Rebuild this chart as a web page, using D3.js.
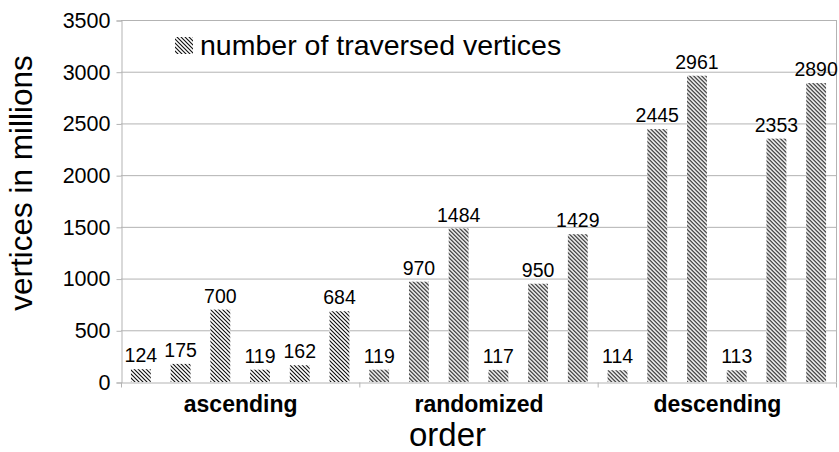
<!DOCTYPE html>
<html><head><meta charset="utf-8">
<script src="https://cdn.jsdelivr.net/npm/d3@7"></script>
<style>body{margin:0;background:#fff;} svg{display:block;font-family:"Liberation Sans",Arial,sans-serif;}</style>
</head><body><svg id="c" width="839" height="452"></svg>
<script>
const categories = ["ascending", "randomized", "descending"];
const seriesName = "number of traversed vertices";
const ascendingValues = [124, 175, 700, 119, 162, 684];
const randomizedValues = [119, 970, 1484, 117, 950, 1429];
const descendingValues = [114, 2445, 2961, 113, 2353, 2890];
const yTicks = [0, 500, 1000, 1500, 2000, 2500, 3000, 3500];
const yTitle = "vertices in millions";
const xTitle = "order";

const groups = [ascendingValues, randomizedValues, descendingValues];
const svg = d3.select("#c");
const L = 121, R = 836, T = 20, B = 382;
const grid = "#b3b3b3";

const defs = svg.append("defs");
const pat = defs.append("pattern").attr("id","hatch").attr("patternUnits","userSpaceOnUse")
  .attr("width",4).attr("height",4);
pat.append("rect").attr("width",4).attr("height",4).attr("fill","#fff");
pat.append("path").attr("d","M-1,-1L5,5M-1,3L1,5M3,-1L5,1").attr("stroke","#111").attr("stroke-width",1.15);

const y = d3.scaleLinear().domain([0, 3500]).range([B, T]);
const x0 = d3.scaleBand().domain(categories).range([L, R]).padding(0);
const x1 = d3.scaleBand().domain(d3.range(6)).range([0, x0.bandwidth()]).paddingInner(0.5).paddingOuter(0.25);

// gridlines
svg.append("g").selectAll("line").data(yTicks.filter(d=>d>0)).join("line")
  .attr("x1", L).attr("x2", R).attr("y1", d=>y(d)+0.5).attr("y2", d=>y(d)+0.5)
  .attr("stroke", grid).attr("stroke-width",1);
// right border
svg.append("line").attr("x1",R+0.5).attr("x2",R+0.5).attr("y1",T).attr("y2",B).attr("stroke",grid);

// y axis
const yAxis = d3.axisLeft(y).tickValues(yTicks).tickSize(5).tickPadding(6).tickFormat(d3.format("d"));
const gy = svg.append("g").attr("transform",`translate(${L+0.5},0.5)`).call(yAxis);
gy.select(".domain").attr("stroke",grid);
gy.selectAll(".tick line").attr("stroke",grid);
gy.selectAll(".tick text").attr("font-size",21.5).attr("fill","#000").attr("font-family","Liberation Sans, Arial, sans-serif");

// x axis
const xAxis = d3.axisBottom(x0).tickSize(0).tickPadding(13);
const gx = svg.append("g").attr("transform",`translate(0.5,${B+0.5})`).call(xAxis);
gx.select(".domain").attr("stroke",grid);
gx.selectAll(".tick text").attr("font-size",23).attr("font-weight","bold").attr("fill","#000")
  .attr("font-family","Liberation Sans, Arial, sans-serif");
// boundary ticks
gx.append("g").selectAll("line").data(d3.range(categories.length+1)).join("line")
  .attr("x1", i=>L + i*x0.step()).attr("x2", i=>L + i*x0.step())
  .attr("y1",0).attr("y2",5).attr("stroke",grid);

// bars
const gb = svg.append("g");
categories.forEach((c, ci) => {
  const vals = groups[ci];
  const g = gb.append("g").attr("transform",`translate(${x0(c)},0)`);
  g.selectAll("rect").data(vals).join("rect")
    .attr("x",(d,i)=>x1(i)).attr("width",x1.bandwidth())
    .attr("y",d=>y(d)).attr("height",d=>B-y(d)).attr("fill","url(#hatch)");
  g.selectAll("text").data(vals).join("text")
    .attr("x",(d,i)=>x1(i)+x1.bandwidth()/2).attr("y",d=>y(d)-7)
    .attr("text-anchor","middle").attr("font-size",19.5).attr("fill","#000").text(d=>d);
});

// legend
svg.append("rect").attr("x",175).attr("y",37).attr("width",18).attr("height",17).attr("fill","url(#hatch)");
svg.append("text").attr("x",200).attr("y",55).attr("font-size",28.5).attr("fill","#000").text(seriesName);

// titles
svg.append("text").attr("transform","translate(32,183) rotate(-90)").attr("text-anchor","middle")
  .attr("font-size",31.5).attr("fill","#000").text(yTitle);
svg.append("text").attr("x",447.5).attr("y",446).attr("text-anchor","middle")
  .attr("font-size",33).attr("fill","#000").text(xTitle);
</script></body></html>
